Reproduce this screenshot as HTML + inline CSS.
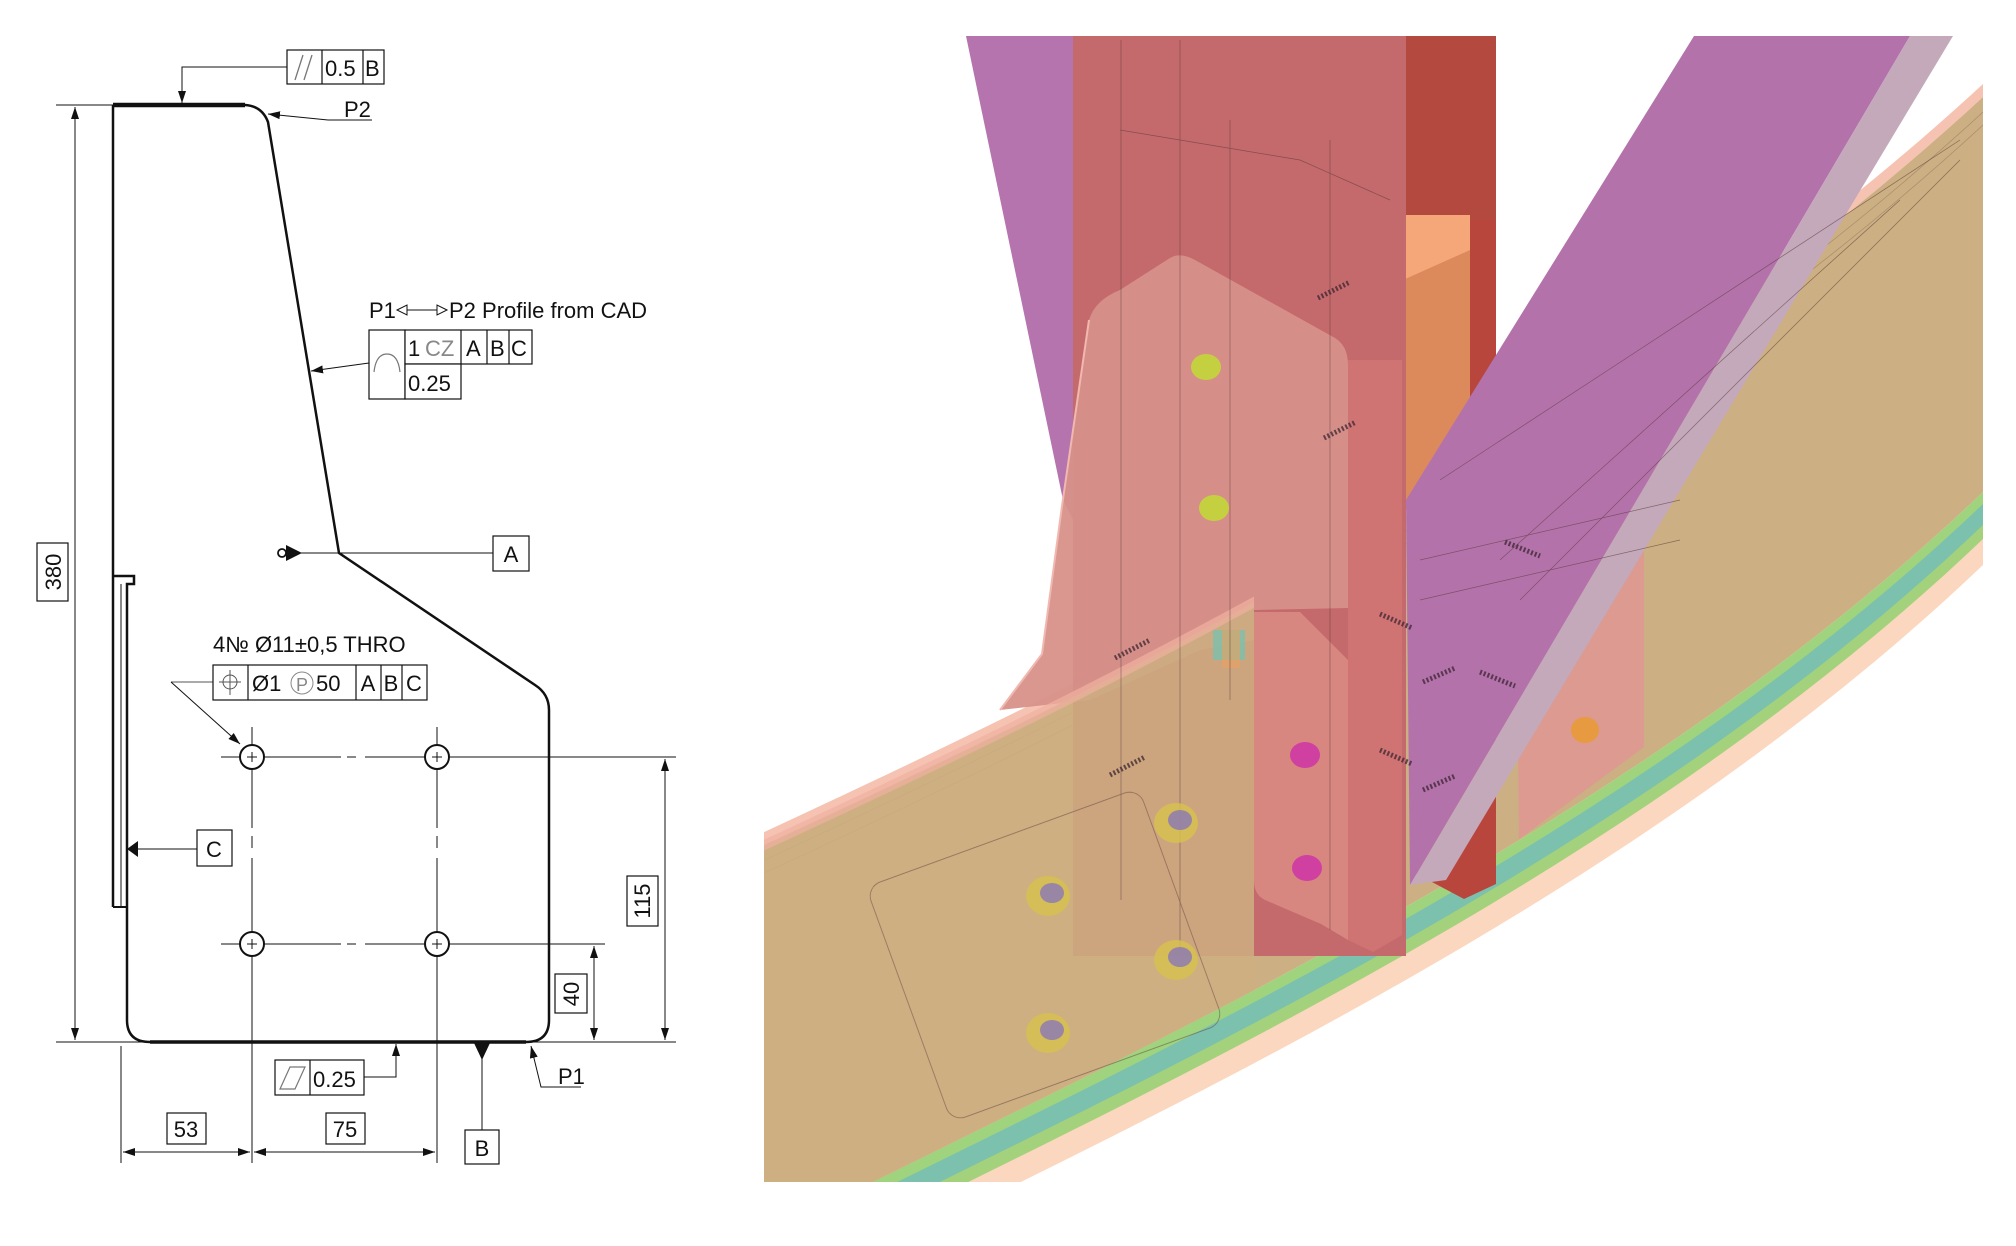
<!DOCTYPE html>
<html><head><meta charset="utf-8"><style>
html,body{margin:0;padding:0;background:#fff;}
svg{display:block;}
text{font-family:"Liberation Sans",Arial,sans-serif;fill:#111;}
</style></head><body>
<svg width="2016" height="1246" viewBox="0 0 2016 1246" xmlns="http://www.w3.org/2000/svg">
<defs>
<marker id="ar" viewBox="0 0 12 8" refX="12" refY="4" markerWidth="12" markerHeight="8" markerUnits="userSpaceOnUse" orient="auto"><path d="M0,0 L12,4 L0,8 z" fill="#111"/></marker>
<clipPath id="pc"><rect x="764" y="36" width="1220" height="1146"/></clipPath>
<clipPath id="lc"><rect x="760" y="36" width="494" height="1146"/></clipPath>
</defs>

<!-- ============ LEFT DRAWING ============ -->
<g stroke="#111" fill="none">
<path d="M113,105 L245,105 Q262,106 268,122 L339,553 L535,685 Q549,694 549,710 L549,1020 Q549,1042 526,1042 L150,1042 Q127,1042 127,1020 L127,584 L134,584 L134,576 L113,576" stroke-width="2.5"/>
<line x1="113" y1="105" x2="245" y2="105" stroke-width="4.5"/>
<line x1="113" y1="105" x2="113" y2="907" stroke-width="2.5"/>
<line x1="113" y1="907" x2="127" y2="907" stroke-width="2"/>
<line x1="121" y1="584" x2="121" y2="907" stroke-width="1"/>
<line x1="150" y1="1042" x2="526" y2="1042" stroke-width="3.5"/>

<line x1="56" y1="105" x2="113" y2="105" stroke-width="1"/>
<line x1="56" y1="1042" x2="676" y2="1042" stroke-width="1"/>
<line x1="75" y1="560" x2="75" y2="107" stroke-width="1" marker-end="url(#ar)"/>
<line x1="75" y1="560" x2="75" y2="1040" stroke-width="1" marker-end="url(#ar)"/>

<polyline points="287,67 182,67 182,103" stroke-width="1" marker-end="url(#ar)"/>
<rect x="287" y="50" width="97" height="34" stroke-width="1.2" fill="#fff"/>
<line x1="322" y1="50" x2="322" y2="84" stroke-width="1.2"/>
<line x1="363" y1="50" x2="363" y2="84" stroke-width="1.2"/>
<line x1="295" y1="80" x2="303" y2="55" stroke="#777" stroke-width="1.3"/>
<line x1="304" y1="80" x2="312" y2="55" stroke="#777" stroke-width="1.3"/>

<polyline points="372,120 328,120 268,114" stroke-width="1" marker-end="url(#ar)"/>

<line x1="369" y1="363" x2="311" y2="371" stroke-width="1" marker-end="url(#ar)"/>
<rect x="369" y="330" width="36" height="69" stroke-width="1.2" fill="#fff"/>
<rect x="405" y="330" width="127" height="34" stroke-width="1.2" fill="#fff"/>
<rect x="405" y="364" width="56" height="35" stroke-width="1.2" fill="#fff"/>
<line x1="461" y1="330" x2="461" y2="364" stroke-width="1.2"/>
<line x1="487" y1="330" x2="487" y2="364" stroke-width="1.2"/>
<line x1="509" y1="330" x2="509" y2="364" stroke-width="1.2"/>
<path d="M374,372 Q376,354 387,354 Q398,354 400,372" stroke="#777" stroke-width="1.2"/>
<line x1="405" y1="310" x2="437" y2="310" stroke-width="1"/>
<path d="M397,310 L407,305 L407,315 z" stroke-width="1" fill="#fff"/>
<path d="M447,310 L437,305 L437,315 z" stroke-width="1" fill="#fff"/>

<line x1="290" y1="553" x2="493" y2="553" stroke-width="1"/>
<path d="M286,545 L302,553 L286,561 z" fill="#111" stroke="none"/>
<circle cx="282" cy="553" r="4" stroke-width="1.8"/>
<rect x="493" y="536" width="36" height="35" stroke-width="1.2" fill="#fff"/>

<path d="M127,849 L138,841 L138,857 z" fill="#111" stroke="none"/>
<line x1="136" y1="849" x2="197" y2="849" stroke-width="1"/>
<rect x="197" y="830" width="35" height="36" stroke-width="1.2" fill="#fff"/>

<line x1="213" y1="682" x2="171" y2="682" stroke-width="1" stroke="#555"/>
<line x1="171" y1="682" x2="240" y2="744" stroke-width="1" marker-end="url(#ar)"/>
<rect x="213" y="665" width="214" height="35" stroke-width="1.2" fill="#fff"/>
<line x1="248" y1="665" x2="248" y2="700" stroke-width="1.2"/>
<line x1="356" y1="665" x2="356" y2="700" stroke-width="1.2"/>
<line x1="381" y1="665" x2="381" y2="700" stroke-width="1.2"/>
<line x1="402" y1="665" x2="402" y2="700" stroke-width="1.2"/>
<circle cx="230" cy="682" r="7" stroke="#555" stroke-width="1"/>
<line x1="219" y1="682" x2="241" y2="682" stroke="#555" stroke-width="1"/>
<line x1="230" y1="670" x2="230" y2="695" stroke="#555" stroke-width="1"/>
<circle cx="302" cy="683" r="11" stroke="#888" stroke-width="1"/>

<g stroke-width="1">
<line x1="221" y1="757" x2="341" y2="757"/><line x1="347" y1="757" x2="356" y2="757"/><line x1="365" y1="757" x2="676" y2="757"/>
<line x1="221" y1="944" x2="341" y2="944"/><line x1="347" y1="944" x2="356" y2="944"/><line x1="365" y1="944" x2="605" y2="944"/>
<line x1="252" y1="727" x2="252" y2="828"/><line x1="252" y1="836" x2="252" y2="848"/><line x1="252" y1="858" x2="252" y2="1163"/>
<line x1="437" y1="727" x2="437" y2="828"/><line x1="437" y1="836" x2="437" y2="848"/><line x1="437" y1="858" x2="437" y2="1163"/>
</g>
<g stroke-width="2" fill="#fff">
<circle cx="252" cy="757" r="12"/><circle cx="437" cy="757" r="12"/>
<circle cx="252" cy="944" r="12"/><circle cx="437" cy="944" r="12"/>
</g>
<g stroke-width="1">
<path d="M247,757 h10 M252,752 v10 M432,757 h10 M437,752 v10 M247,944 h10 M252,939 v10 M432,944 h10 M437,939 v10"/>
</g>

<line x1="665" y1="900" x2="665" y2="759" stroke-width="1" marker-end="url(#ar)"/>
<line x1="665" y1="900" x2="665" y2="1040" stroke-width="1" marker-end="url(#ar)"/>
<line x1="594" y1="990" x2="594" y2="946" stroke-width="1" marker-end="url(#ar)"/>
<line x1="594" y1="990" x2="594" y2="1040" stroke-width="1" marker-end="url(#ar)"/>
<rect x="627" y="876" width="31" height="50" stroke-width="1.2" fill="#fff"/>
<rect x="555" y="974" width="32" height="39" stroke-width="1.2" fill="#fff"/>
<rect x="37" y="543" width="31" height="58" stroke-width="1.2" fill="#fff"/>

<polyline points="364,1077 396,1077 396,1044" stroke-width="1" marker-end="url(#ar)"/>
<rect x="275" y="1060" width="89" height="35" stroke-width="1.2" fill="#fff"/>
<line x1="310" y1="1060" x2="310" y2="1095" stroke-width="1.2"/>
<path d="M280,1089 L290,1067 L305,1067 L295,1089 z" stroke="#777" stroke-width="1.2"/>

<path d="M474,1043 L490,1043 L482,1060 z" fill="#111" stroke="none"/>
<line x1="482" y1="1055" x2="482" y2="1130" stroke-width="1"/>
<rect x="465" y="1130" width="34" height="34" stroke-width="1.2" fill="#fff"/>

<polyline points="581,1087 541,1087 531,1046" stroke-width="1" marker-end="url(#ar)"/>

<line x1="121" y1="1046" x2="121" y2="1163" stroke-width="1"/>
<line x1="186" y1="1152" x2="123" y2="1152" stroke-width="1" marker-end="url(#ar)"/>
<line x1="186" y1="1152" x2="250" y2="1152" stroke-width="1" marker-end="url(#ar)"/>
<line x1="345" y1="1152" x2="254" y2="1152" stroke-width="1" marker-end="url(#ar)"/>
<line x1="345" y1="1152" x2="435" y2="1152" stroke-width="1" marker-end="url(#ar)"/>
<rect x="167" y="1113" width="39" height="31" stroke-width="1.2" fill="#fff"/>
<rect x="326" y="1113" width="39" height="31" stroke-width="1.2" fill="#fff"/>
</g>

<g font-size="22">
<text x="325" y="76">0.5</text>
<text x="365" y="76">B</text>
<text x="344" y="117">P2</text>
<text x="369" y="318">P1</text>
<text x="449" y="318">P2 Profile from CAD</text>
<text x="408" y="356">1</text>
<text x="425" y="356" style="fill:#888">CZ</text>
<text x="466" y="356">A</text>
<text x="490" y="356">B</text>
<text x="511" y="356">C</text>
<text x="408" y="391">0.25</text>
<text x="511" y="562" text-anchor="middle">A</text>
<text x="214" y="857" text-anchor="middle">C</text>
<text x="213" y="652">4№ Ø11±0,5 THRO</text>
<text x="252" y="691">Ø1</text>
<text x="302" y="691" text-anchor="middle" font-size="18" style="fill:#888">P</text>
<text x="316" y="691">50</text>
<text x="368" y="691" text-anchor="middle">A</text>
<text x="391" y="691" text-anchor="middle">B</text>
<text x="414" y="691" text-anchor="middle">C</text>
<text x="313" y="1087">0.25</text>
<text x="482" y="1156" text-anchor="middle">B</text>
<text x="558" y="1084">P1</text>
<text x="186" y="1137" text-anchor="middle">53</text>
<text x="345" y="1137" text-anchor="middle">75</text>
<text transform="translate(61,572) rotate(-90)" text-anchor="middle">380</text>
<text transform="translate(650,901) rotate(-90)" text-anchor="middle">115</text>
<text transform="translate(579,994) rotate(-90)" text-anchor="middle">40</text>
</g>

<!-- ============ RIGHT 3D IMAGE ============ -->
<g clip-path="url(#pc)">
<polygon points="966,36 1073,36 1073,520 1063,500" fill="#b574ad"/>
<path d="M760,847 C1100,690 1600,450 1983,97 L1983,84 C1600,437 1100,676 760,834 z" fill="#f6c3b2"/>
<path d="M873,1182 C1200,1020 1650,810 1983,492 L1983,1246 L760,1246 z" fill="#9fd37e"/>
<path d="M873,1194 C1200,1032 1650,822 1983,504 L1983,1246 L760,1246 z" fill="#7cc1ad"/>
<path d="M873,1215 C1200,1053 1650,843 1983,525 L1983,1246 L760,1246 z" fill="#a4d27c"/>
<path d="M873,1229 C1200,1067 1650,857 1983,539 L1983,1246 L760,1246 z" fill="#fbd7bf"/>
<path d="M873,1255 C1200,1093 1650,883 1983,565 L1983,1246 L760,1246 z" fill="#fff"/>
<path d="M760,847 C1100,690 1600,450 1983,97 L1983,492 C1650,810 1200,1020 873,1182 L760,1182 z" fill="#ccaf82"/>
<path d="M760,862 C1100,705 1600,465 1983,112" fill="none" stroke="#8a7a60" stroke-width="0.7" opacity="0.6"/>
<path d="M760,875 C1100,718 1600,478 1983,125" fill="none" stroke="#8a7a60" stroke-width="0.7" opacity="0.6"/>
<polygon points="1515,468 1644,500 1644,747 1519,839" fill="#dc9a90"/>
<polygon points="1403,226 1470,220 1470,500 1403,510" fill="#dc8a5c"/>
<polygon points="1403,215 1470,215 1470,250 1403,280" fill="#f5a77a"/>
<rect x="1073" y="36" width="333" height="920" fill="#c56a6c"/>
<polygon points="1406,36 1496,36 1496,220 1470,220 1470,215 1406,215" fill="#b3493f"/>
<polygon points="1470,220 1496,220 1496,884 1464,899 1415,873 1415,700 1470,500" fill="#b8463c"/>
<polygon points="1694,36 1910,36 1410,885 1406,500" fill="#b472ab"/>
<polygon points="1910,36 1953,36 1446,880 1410,885" fill="#c4a9bb"/>
<path d="M1000,710 L1042,654 L1062,506 L1089,320 Q1095,300 1120,290 L1170,258 Q1180,252 1195,260 L1335,338 Q1348,346 1348,365 L1348,608 L1254,610 L1254,640 L1200,650 L1090,700 z" fill="#d7918a" opacity="0.95"/>
<path d="M1000,710 L1042,654 L1062,506 L1089,320" fill="none" stroke="#f0b8b0" stroke-width="2"/>
<!-- beige showing through lower column (left of flange) -->
<g clip-path="url(#lc)">
<path d="M760,847 C1100,690 1600,450 1983,97 L1983,492 C1650,810 1200,1020 873,1182 L760,1182 z" fill="#ccaf82" opacity="0.85"/>
<path d="M760,847 C1100,690 1600,450 1983,97" fill="none" stroke="#f0b0a0" stroke-width="10" opacity="0.7"/>
</g>
<path d="M1254,612 L1300,612 L1348,660 L1348,940 L1321,924 L1265,900 Q1254,895 1254,880 z" fill="#d88680"/>
<polygon points="1348,360 1402,360 1402,935 1373,952 1348,940" fill="#cf7373"/>
<polygon points="1213,630 1245,630 1245,660 1213,660" fill="#7cc1ad" opacity="0.8"/>
<polygon points="1222,630 1240,630 1240,668 1222,668" fill="#e8a060" opacity="0.6"/>
<g stroke="#5a3a3a" stroke-width="0.7" fill="none" opacity="0.6">
<line x1="1121" y1="40" x2="1121" y2="900"/><line x1="1180" y1="40" x2="1180" y2="950"/>
<line x1="1230" y1="120" x2="1230" y2="700"/><line x1="1330" y1="140" x2="1330" y2="930"/>
<path d="M1120,130 L1300,160 L1390,200"/><path d="M1500,560 L1900,200"/><path d="M1520,600 L1960,160"/>
<path d="M1440,480 L1960,140"/><rect x="900" y="830" width="290" height="250" rx="15" transform="rotate(-20 1045 955)"/>
<path d="M1420,560 L1680,500 M1420,600 L1680,540"/>
</g>
<g>
<ellipse cx="1206" cy="367" rx="15" ry="13" fill="#c5d040"/>
<ellipse cx="1214" cy="508" rx="15" ry="13" fill="#c5d040"/>
<ellipse cx="1305" cy="755" rx="15" ry="13" fill="#d040a0"/>
<ellipse cx="1307" cy="868" rx="15" ry="13" fill="#d040a0"/>
<ellipse cx="1585" cy="730" rx="14" ry="13" fill="#e89a40"/>
<g fill="#d6c050" opacity="0.85">
<ellipse cx="1048" cy="896" rx="22" ry="20"/><ellipse cx="1176" cy="823" rx="22" ry="20"/>
<ellipse cx="1176" cy="960" rx="22" ry="20"/><ellipse cx="1048" cy="1033" rx="22" ry="20"/>
</g>
<g fill="#8878b8" opacity="0.8">
<ellipse cx="1052" cy="893" rx="12" ry="10"/><ellipse cx="1180" cy="820" rx="12" ry="10"/>
<ellipse cx="1180" cy="957" rx="12" ry="10"/><ellipse cx="1052" cy="1030" rx="12" ry="10"/>
</g>
<g fill="none" stroke="#3a2430" stroke-width="5" stroke-dasharray="2 2" opacity="0.75">
<line x1="1318" y1="298" x2="1350" y2="282"/><line x1="1324" y1="438" x2="1356" y2="422"/>
<line x1="1115" y1="658" x2="1150" y2="640"/><line x1="1380" y1="614" x2="1412" y2="628"/>
<line x1="1505" y1="542" x2="1540" y2="556"/><line x1="1423" y1="682" x2="1455" y2="668"/>
<line x1="1480" y1="672" x2="1515" y2="686"/><line x1="1380" y1="750" x2="1412" y2="764"/>
<line x1="1423" y1="790" x2="1455" y2="776"/><line x1="1110" y1="775" x2="1145" y2="757"/>
</g>
</g>
</g>
</svg>
</body></html>
